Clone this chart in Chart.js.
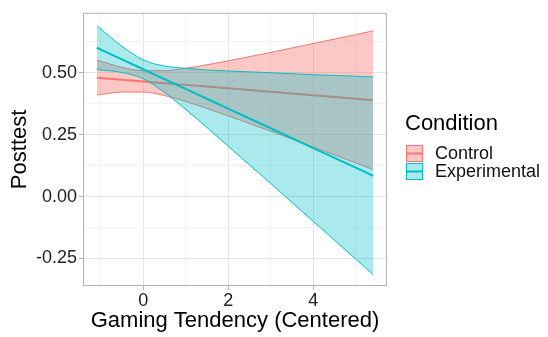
<!DOCTYPE html>
<html>
<head>
<meta charset="utf-8">
<script src="https://cdn.jsdelivr.net/npm/chart.js@4.4.0/dist/chart.umd.min.js"></script>
<style>
  html, body { margin: 0; padding: 0; background: #fff; }
</style>
</head>
<body>
<canvas id="chart" width="548" height="337"></canvas>
<script>
// values
const gaming = [-1.09, -0.5, 0, 0.5, 1, 1.5, 2, 3, 4, 5, 5.41];

const controlFit   = [0.480, 0.472, 0.465, 0.458, 0.451, 0.444, 0.437, 0.423, 0.409, 0.395, 0.389];
const controlUpper = [0.551, 0.522, 0.508, 0.508, 0.518, 0.532, 0.548, 0.582, 0.618, 0.654, 0.669];
const controlLower = [0.410, 0.422, 0.422, 0.408, 0.384, 0.356, 0.326, 0.264, 0.200, 0.136, 0.109];

const expFit   = [0.601, 0.554, 0.514, 0.474, 0.435, 0.395, 0.355, 0.276, 0.196, 0.117, 0.084];
const expUpper = [0.690, 0.607, 0.552, 0.527, 0.518, 0.511, 0.507, 0.500, 0.492, 0.486, 0.483];
const expLower = [0.513, 0.501, 0.476, 0.421, 0.352, 0.279, 0.203, 0.053, -0.100, -0.252, -0.315];

const xMajor = [0, 2, 4];
const xMinor = [-1, 1, 3, 5];
const yMajor = [-0.25, 0, 0.25, 0.5];
const yMinor = [-0.125, 0.125, 0.375, 0.625];

const legendTitle = 'Condition';
const groups = ['Control', 'Experimental'];

const RED = '#F8766D';
const TEAL = '#00BFC4';
const FONT = '"Liberation Sans", Arial, Helvetica, sans-serif';

const pts = ys => gaming.map((x, i) => ({ x: x, y: ys[i] }));

function edge(data, color, order) {
    return {
        data: pts(data),
        borderColor: color,
        borderWidth: 1,
        pointRadius: 0,
        cubicInterpolationMode: 'monotone',
        fill: false,
        order: order
    };
}

// legend + panel border
const ggExtras = {
    id: 'ggExtras',
    afterDraw(chart) {
        const c = chart.ctx;
        const a = chart.chartArea;
        c.save();
        c.strokeStyle = '#B3B3B3';
        c.lineWidth = 1;
        c.strokeRect(a.left + 0.5, a.top + 0.5, a.right - a.left - 1, a.bottom - a.top - 1);

        c.fillStyle = '#000';
        c.font = '22px ' + FONT;
        c.textBaseline = 'middle';
        c.fillText(legendTitle, 405, 124);

        const cols = [RED, TEAL];
        const fills = ['rgba(248,118,109,0.4)', 'rgba(0,191,196,0.33)'];
        groups.forEach((g, i) => {
            const y = 145 + i * 18;
            c.fillStyle = '#fff';
            c.fillRect(406, y, 17, 17);
            c.fillStyle = fills[i];
            c.fillRect(406, y, 17, 17);
            c.strokeStyle = cols[i];
            c.lineWidth = 1;
            c.strokeRect(406.5, y + 0.5, 16, 16);
            c.lineWidth = 2;
            c.beginPath();
            c.moveTo(407, y + 8.5);
            c.lineTo(422, y + 8.5);
            c.stroke();
            c.fillStyle = '#111';
            c.font = '18px ' + FONT;
            c.fillText(g, 435, y + 9);
        });
        c.restore();
    }
};

new Chart(document.getElementById('chart'), {
    type: 'line',
    data: {
        datasets: [
            Object.assign(edge(controlUpper, RED, 6), { fill: { target: 1 }, backgroundColor: 'rgba(248,118,109,0.4)' }),
            edge(controlLower, RED, 5),
            { data: pts(controlFit), borderColor: RED, borderWidth: 2, pointRadius: 0, fill: false, order: 4 },
            Object.assign(edge(expUpper, TEAL, 3), { fill: { target: 4 }, backgroundColor: 'rgba(0,191,196,0.33)' }),
            edge(expLower, TEAL, 2),
            { data: pts(expFit), borderColor: TEAL, borderWidth: 2, pointRadius: 0, fill: false, order: 1 }
        ]
    },
    options: {
        responsive: false,
        animation: false,
        layout: { padding: { left: 0, right: 161, top: 5, bottom: 0 } },
        plugins: { legend: { display: false }, tooltip: { enabled: false } },
        scales: {
            x: {
                type: 'linear',
                min: -1.415,
                max: 5.735,
                afterBuildTicks: s => { s.ticks = xMinor.concat(xMajor).sort((a, b) => a - b).map(v => ({ value: v })); },
                afterFit: s => { s.height = 51; },
                border: { display: false },
                grid: {
                    color: c => xMajor.includes(c.tick.value) ? '#E4E4E4' : '#F3F3F3',
                    tickColor: c => xMajor.includes(c.tick.value) ? '#B3B3B3' : 'rgba(0,0,0,0)',
                    tickLength: 4
                },
                ticks: {
                    autoSkip: false,
                    maxRotation: 0,
                    padding: 0,
                    color: '#222',
                    font: { family: FONT, size: 18 },
                    callback: v => xMajor.includes(v) ? String(v) : ''
                },
                title: {
                    display: true,
                    text: 'Gaming Tendency (Centered)',
                    color: '#000',
                    font: { family: FONT, size: 22 },
                    padding: { top: 0, bottom: 3 }
                }
            },
            y: {
                type: 'linear',
                min: -0.361,
                max: 0.742,
                afterBuildTicks: s => { s.ticks = yMinor.concat(yMajor).sort((a, b) => a - b).map(v => ({ value: v })); },
                afterFit: s => { s.width = 83; },
                border: { display: false },
                grid: {
                    color: c => yMajor.includes(c.tick.value) ? '#E4E4E4' : '#F3F3F3',
                    tickColor: c => yMajor.includes(c.tick.value) ? '#B3B3B3' : 'rgba(0,0,0,0)',
                    tickLength: 4
                },
                ticks: {
                    autoSkip: false,
                    padding: 2,
                    color: '#222',
                    font: { family: FONT, size: 18 },
                    callback: v => yMajor.includes(v) ? v.toFixed(2) : ''
                },
                title: {
                    display: true,
                    text: 'Posttest',
                    color: '#000',
                    font: { family: FONT, size: 22 },
                    padding: { top: 7, bottom: 0 }
                }
            }
        }
    },
    plugins: [ggExtras]
});
</script>
</body>
</html>
